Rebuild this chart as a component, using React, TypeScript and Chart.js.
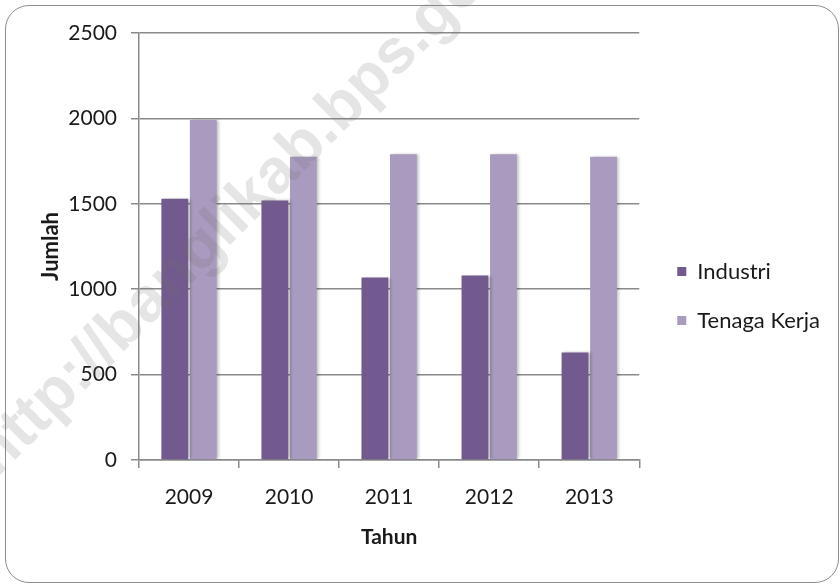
import React, { useEffect, useRef } from "react";
import { Chart, registerables } from "chart.js";

Chart.register(...registerables);

const categories = ["2009", "2010", "2011", "2012", "2013"];
const seriesNames = ["Industri", "Tenaga Kerja"];
const industri = [1530, 1520, 1068, 1080, 630];
const tenagaKerja = [1990, 1775, 1790, 1790, 1775];
const yTickValues = [0, 500, 1000, 1500, 2000, 2500];
const xTitle = "Tahun";
const yTitle = "Jumlah";
const watermarkText = "http://banglikab.bps.go.id";

const FONT = "Lato, 'Open Sans', sans-serif";
const GRID = "#8a8a8a";
const TEXT = "#1a1a1a";

const shadowPlugin = {
  id: "barShadow",
  beforeDatasetDraw(chart: any) {
    const ctx = chart.ctx;
    ctx.save();
    ctx.shadowColor = "rgba(0,0,0,0.28)";
    ctx.shadowBlur = 3;
    ctx.shadowOffsetX = 2.5;
    ctx.shadowOffsetY = 0;
  },
  afterDatasetDraw(chart: any) {
    chart.ctx.restore();
  },
};

// nudge legend block to the right, away from the plot area
const legendShiftPlugin = {
  id: "legendShift",
  afterLayout(chart: any) {
    const lg = chart.legend;
    if (lg) {
      lg.left += 11;
      lg.right += 11;
    }
  },
};

const watermarkPlugin = {
  id: "watermark",
  afterDraw(chart: any) {
    const ctx = chart.ctx;
    ctx.save();
    ctx.translate(-3, 478);
    ctx.rotate(-Math.PI / 4);
    ctx.font = "bold 63px 'Liberation Sans', Arial, sans-serif";
    ctx.fillStyle = "rgba(110,110,110,0.18)";
    ctx.textBaseline = "alphabetic";
    ctx.fillText(watermarkText, 0, 0);
    ctx.restore();
  },
};

export default function App() {
  const ref = useRef<HTMLCanvasElement | null>(null);

  useEffect(() => {
    if (!ref.current) return;
    const chart = new Chart(ref.current, {
      type: "bar",
      data: {
        labels: categories,
        datasets: [
          {
            label: seriesNames[0],
            data: industri,
            backgroundColor: "#725a8e",
            borderWidth: 0,
            categoryPercentage: 0.57,
            barPercentage: 0.94,
          },
          {
            label: seriesNames[1],
            data: tenagaKerja,
            backgroundColor: "#a99abf",
            borderWidth: 0,
            categoryPercentage: 0.57,
            barPercentage: 0.94,
          },
        ],
      },
      options: {
        responsive: false,
        animation: false,
        devicePixelRatio: 1,
        layout: { padding: { left: 38, right: 21, top: 33, bottom: 25 } },
        plugins: {
          tooltip: { enabled: false },
          legend: {
            position: "right",
            align: "center",
            labels: {
              boxWidth: 9,
              boxHeight: 9,
              padding: 27,
              color: TEXT,
              font: { family: FONT, size: 22 },
            },
          },
        },
        scales: {
          x: {
            afterFit(scale: any) {
              scale.height = 99;
            },
            grid: {
              display: true,
              drawOnChartArea: false,
              drawTicks: true,
              tickLength: 8,
              color: GRID,
              lineWidth: 1.5,
              offset: true,
            },
            border: { display: true, color: GRID, width: 1.5 },
            ticks: {
              color: TEXT,
              font: { family: FONT, size: 21 },
              padding: 17,
            },
            title: {
              display: true,
              text: xTitle,
              color: TEXT,
              font: { family: FONT, size: 21, weight: "bold" },
              padding: { top: 0, bottom: 9 },
            },
          },
          y: {
            min: 0,
            max: 2500,
            afterFit(scale: any) {
              scale.width = 101;
            },
            afterBuildTicks(axis: any) {
              axis.ticks = yTickValues.map((v) => ({ value: v }));
            },
            grid: {
              color: GRID,
              lineWidth: 1.5,
              tickLength: 8,
              drawTicks: true,
            },
            border: { display: true, color: GRID, width: 1.5 },
            ticks: {
              color: TEXT,
              font: { family: FONT, size: 21 },
              padding: 14,
              callback: (v: any) => String(v),
            },
            title: {
              display: true,
              text: yTitle,
              color: TEXT,
              font: { family: FONT, size: 22, weight: "bold" },
              padding: { top: 0, bottom: 0 },
            },
          },
        },
      },
      plugins: [shadowPlugin, legendShiftPlugin, watermarkPlugin],
    });
    return () => chart.destroy();
  }, []);

  return (
    <div
      style={{
        position: "absolute",
        left: 0,
        top: 0,
        width: 840,
        height: 584,
        background: "#fff",
        overflow: "hidden",
      }}
    >
      <div
        style={{
          position: "absolute",
          left: 5,
          top: 5,
          width: 834,
          height: 578,
          boxSizing: "border-box",
          border: "1.5px solid #8e8e8e",
          borderRadius: 24,
        }}
      />
      <canvas
        ref={ref}
        width={840}
        height={584}
        style={{ position: "absolute", left: 0, top: 0, width: 840, height: 584 }}
      />
    </div>
  );
}
